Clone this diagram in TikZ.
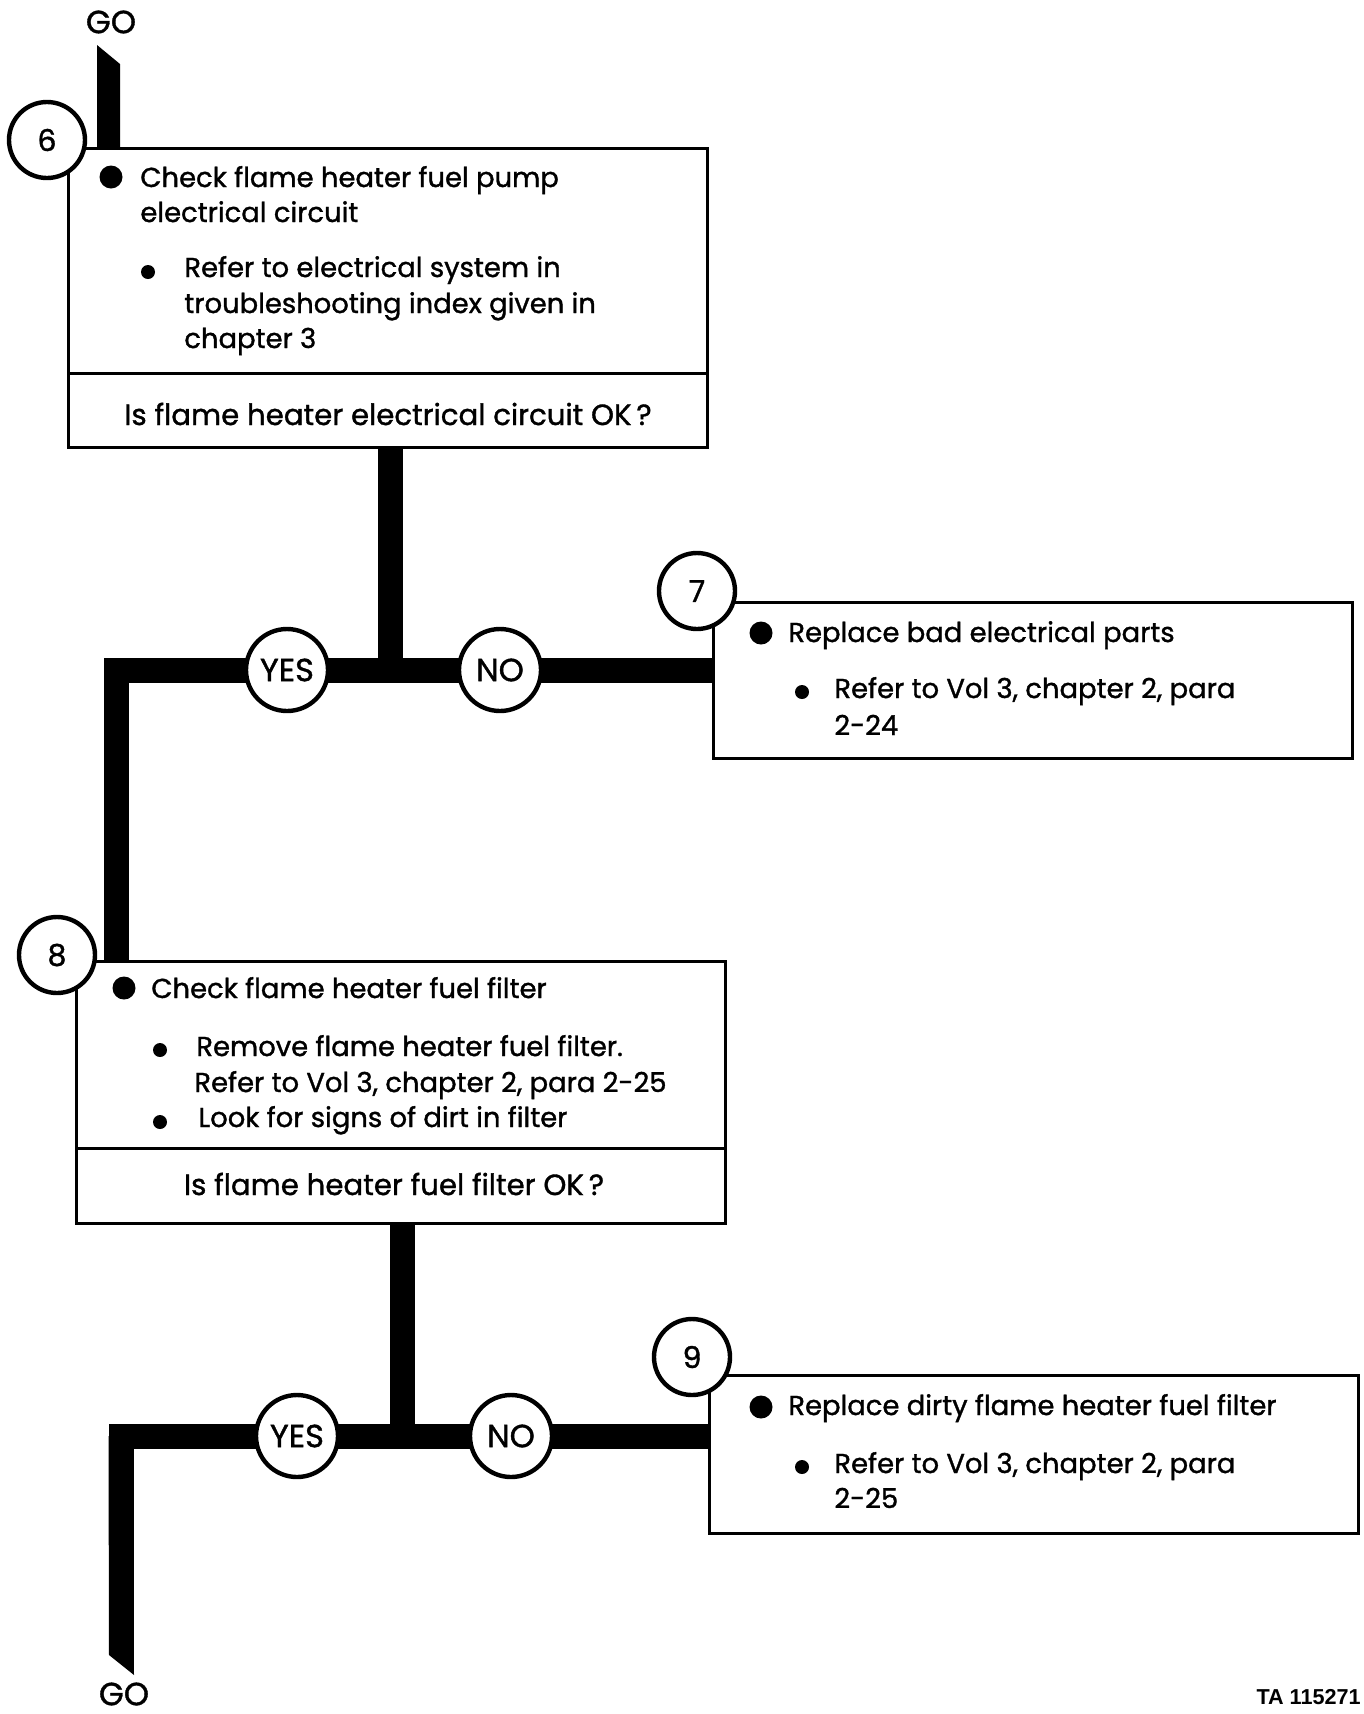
\documentclass[tikz,border=0pt]{standalone}
\usepackage{fontspec}
\setmainfont{Poppins}[FakeBold=1.2]
\newfontfamily\tafont{Liberation Sans}
\usetikzlibrary{backgrounds}
\begin{document}
\begin{tikzpicture}[x=0.5pt,y=-0.5pt,
  txt/.style={anchor=base west, inner sep=0pt, font=\fontsize{13.7}{17}\selectfont},
  qtxt/.style={anchor=base, inner sep=0pt, font=\fontsize{14.6}{17}\selectfont},
  boxr/.style={draw, line width=1.5pt, fill=white, rectangle, inner sep=0pt, anchor=north west},
  num/.style={circle, draw, line width=2.2pt, fill=white, minimum size=38pt, inner sep=0pt, font=\fontsize{15}{17}\selectfont},
  yn/.style={circle, draw, line width=2.2pt, fill=white, minimum size=41pt, inner sep=0pt, font=\fontsize{16}{18}\selectfont},
  bar/.style={line width=12.5pt, line cap=butt, line join=miter},
  bigdot/.style={circle, fill, inner sep=0pt, minimum size=11.5pt},
  smalldot/.style={circle, fill, inner sep=0pt, minimum size=7pt},
  golbl/.style={inner sep=0pt, font=\fontsize{16}{18}\selectfont},
]
\useasboundingbox (0,0) rectangle (1364,1714);

% ---- boxes
\node[boxr, minimum width=319.5pt, minimum height=149.5pt] (box6) at (67,147) {};
\node[boxr, minimum width=319.5pt, minimum height=78pt] (box7) at (712,601) {};
\node[boxr, minimum width=324.5pt, minimum height=131pt] (box8) at (75,960) {};
\node[boxr, minimum width=324.5pt, minimum height=79pt] (box9) at (708,1374) {};

\coordinate (d6) at (0,373);
\coordinate (d8) at (0,1148);
\draw[line width=1.5pt] (box6.west |- d6) -- (box6.east |- d6);
\draw[line width=1.5pt] (box8.west |- d8) -- (box8.east |- d8);

% ---- box 6 text
\node[bigdot] (b6a) at (111,177) {};
\node[txt] (t6a) at (140,187) {Check flame heater fuel pump};
\node[txt] (t6b) at (140,222) {electrical circuit};
\node[smalldot] (b6b) at (148,272) {};
\node[txt] (t6c) at (184,277) {Refer to electrical system in};
\node[txt] (t6d) at (184,313) {troubleshooting index given in};
\node[txt] (t6e) at (184,348) {chapter 3};
\node[qtxt] (q6) at (388,425) {Is flame heater electrical circuit OK\,?};

% ---- box 7 text
\node[bigdot] (b7a) at (761,633) {};
\node[txt] (t7a) at (788,642) {Replace bad electrical parts};
\node[smalldot] (b7b) at (802,692) {};
\node[txt] (t7b) at (834,698) {Refer to Vol 3, chapter 2, para};
\node[txt] (t7c) at (834,735) {2-24};

% ---- box 8 text
\node[bigdot] (b8a) at (124,988) {};
\node[txt] (t8a) at (151,998) {Check flame heater fuel filter};
\node[smalldot] (b8b) at (160,1050) {};
\node[txt] (t8b) at (196,1056) {Remove flame heater fuel filter.};
\node[txt] (t8c) at (194,1092) {Refer to Vol 3, chapter 2, para 2-25};
\node[smalldot] (b8c) at (160,1122) {};
\node[txt] (t8d) at (198,1127) {Look for signs of dirt in filter};
\node[qtxt] (q8) at (394,1195) {Is flame heater fuel filter OK\,?};

% ---- box 9 text
\node[bigdot] (b9a) at (761,1407) {};
\node[txt] (t9a) at (788,1415) {Replace dirty flame heater fuel filter};
\node[smalldot] (b9b) at (802,1467) {};
\node[txt] (t9b) at (834,1473) {Refer to Vol 3, chapter 2, para};
\node[txt] (t9c) at (834,1508) {2-25};

% ---- step numbers
\node[num] (n6) at (47,140) {6};
\node[num] (n7) at (697,591) {7};
\node[num] (n8) at (57,955) {8};
\node[num] (n9) at (692,1357) {9};

% ---- yes / no
\node[yn] (yes1) at (287,670) {YES};
\node[yn] (no1) at (500,670) {NO};
\node[yn] (yes2) at (297,1436) {YES};
\node[yn] (no2) at (511,1436) {NO};

% ---- labels
\node[golbl] (go1) at (111,22) {GO};
\node[golbl] (go2) at (124,1694) {GO};
\node[anchor=base east, inner sep=0pt, font=\tafont\bfseries\fontsize{10.8}{12}\selectfont] (ta) at (1361,1704) {TA 115271};

% ---- connectors
\coordinate (j1) at (390,670);
\coordinate (c1) at (116,670);
\coordinate (j2) at (402,1436);
\coordinate (c2) at (121,1436);
\coordinate (gtl) at (97,45);
\coordinate (gtr) at (120,64);
\coordinate (gbl) at (109,1655);
\coordinate (gbr) at (134,1675);

\begin{pgfonlayer}{background}
  \fill (gtl) -- (gtr) -- (gtr |- box6.north) -- (gtl |- box6.north) -- cycle;
  \draw[bar] (j1 |- box6.south) -- (j1);
  \draw[bar] (box7.west |- j1) -- (c1) -- (c1 |- box8.north);
  \draw[bar] (j2 |- box8.south) -- (j2);
  \draw[bar] (box9.west |- j2) -- (c2) -- ([yshift=-0.1pt]c2 |- gbl);
  \fill ([xshift=-6.25pt]c2) -- (gbl) -- (gbr) -- ([xshift=6.25pt]c2) -- cycle;
\end{pgfonlayer}
\end{tikzpicture}
\end{document}
